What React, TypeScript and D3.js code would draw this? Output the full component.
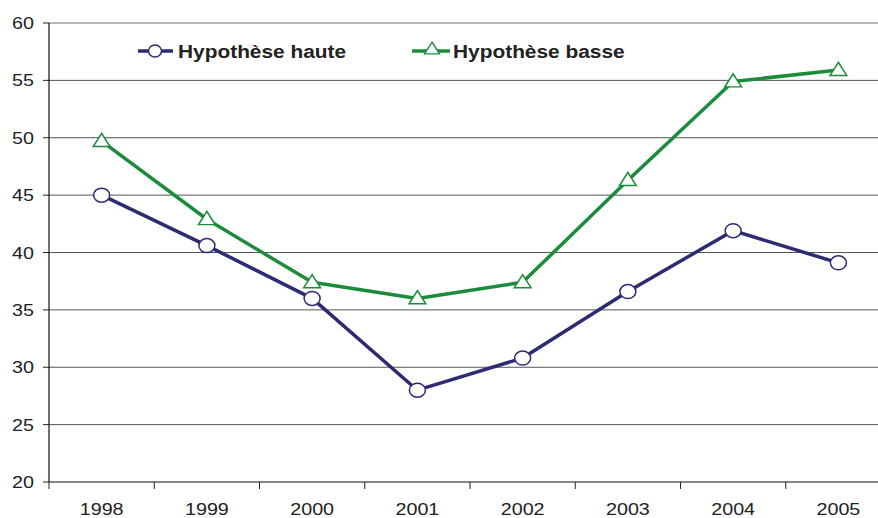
import React from "react";
import * as d3 from "d3";

const years = ["1998", "1999", "2000", "2001", "2002", "2003", "2004", "2005"];
const haute = [45.0, 40.6, 36.0, 28.0, 30.8, 36.6, 41.9, 39.1];
const basse = [49.7, 42.9, 37.4, 36.0, 37.4, 46.3, 54.9, 55.9];
const yTicks = [20, 25, 30, 35, 40, 45, 50, 55, 60];
const seriesNames = ["Hypothèse haute", "Hypothèse basse"];

const W = 878;
const H = 518;
const NAVY = "#2E2B73";
const GREEN = "#1B8C3C";
const SX = 1.16;

export default function App() {
  const x = d3.scaleBand<string>().domain(years).range([49, 891]);
  const y = d3.scaleLinear().domain([20, 60]).range([482, 23]);
  const cx = (yr: string) => (x(yr) as number) + x.bandwidth() / 2;
  const line = d3
    .line<number>()
    .x((_, i) => cx(years[i]))
    .y((d) => y(d));
  const tri = d3.symbol().type(d3.symbolTriangle).size(110)() as string;
  const font = "'Liberation Sans', Arial, sans-serif";

  return (
    <svg width={W} height={H} style={{ position: "absolute", left: 0, top: 0, background: "#fff" }}>
      <rect width={W} height={H} fill="#fff" />
      {yTicks.map((t) => (
        <g key={t}>
          {t !== 20 && (
            <line x1={49} x2={W} y1={y(t)} y2={y(t)} stroke={t === 60 ? "#6d6d6d" : "#555"} strokeWidth={1} />
          )}
          <line x1={43} x2={49} y1={y(t)} y2={y(t)} stroke="#222" strokeWidth={1} />
          <text
            transform={`translate(34,${y(t) + 6}) scale(${SX},1)`}
            textAnchor="end"
            fontFamily={font}
            fontSize={17}
            fill="#222"
          >
            {t}
          </text>
        </g>
      ))}
      <line x1={49} x2={49} y1={23} y2={482} stroke="#111" strokeWidth={1.2} />
      <line x1={49} x2={W} y1={482} y2={482} stroke="#111" strokeWidth={1.2} />
      {years.map((yr) => (
        <g key={yr}>
          <line
            x1={x(yr) as number}
            x2={x(yr) as number}
            y1={482}
            y2={489}
            stroke="#222"
            strokeWidth={1}
          />
          <text
            transform={`translate(${cx(yr)},${515}) scale(${SX},1)`}
            textAnchor="middle"
            fontFamily={font}
            fontSize={17}
            fill="#222"
          >
            {yr}
          </text>
        </g>
      ))}
      <path d={line(basse) as string} fill="none" stroke={GREEN} strokeWidth={3.5} strokeLinejoin="round" />
      <path d={line(haute) as string} fill="none" stroke={NAVY} strokeWidth={3.5} strokeLinejoin="round" />
      {basse.map((v, i) => (
        <path
          key={"b" + i}
          d={tri}
          transform={`translate(${cx(years[i])},${y(v) + 1}) scale(1.05,0.95)`}
          fill="#fff"
          stroke={GREEN}
          strokeWidth={1.5}
        />
      ))}
      {haute.map((v, i) => (
        <ellipse key={"h" + i} cx={cx(years[i])} cy={y(v)} rx={8} ry={7} fill="#fff" stroke={NAVY} strokeWidth={1.5} />
      ))}
      {/* legend */}
      <g>
        <line x1={138} x2={173} y1={51} y2={51} stroke={NAVY} strokeWidth={3.5} />
        <ellipse cx={155} cy={51} rx={6.5} ry={6} fill="#fff" stroke={NAVY} strokeWidth={1.5} />
        <text
          transform={`translate(178,58) scale(${SX},1)`}
          fontFamily={font}
          fontWeight="bold"
          fontSize={18}
          fill="#222"
        >
          {seriesNames[0]}
        </text>
        <line x1={412} x2={450} y1={51} y2={51} stroke={GREEN} strokeWidth={3.5} />
        <path d={tri} transform={`translate(432,50) scale(0.95,0.85)`} fill="#fff" stroke={GREEN} strokeWidth={1.5} />
        <text
          transform={`translate(453,58) scale(${SX},1)`}
          fontFamily={font}
          fontWeight="bold"
          fontSize={18}
          fill="#222"
        >
          {seriesNames[1]}
        </text>
      </g>
    </svg>
  );
}
